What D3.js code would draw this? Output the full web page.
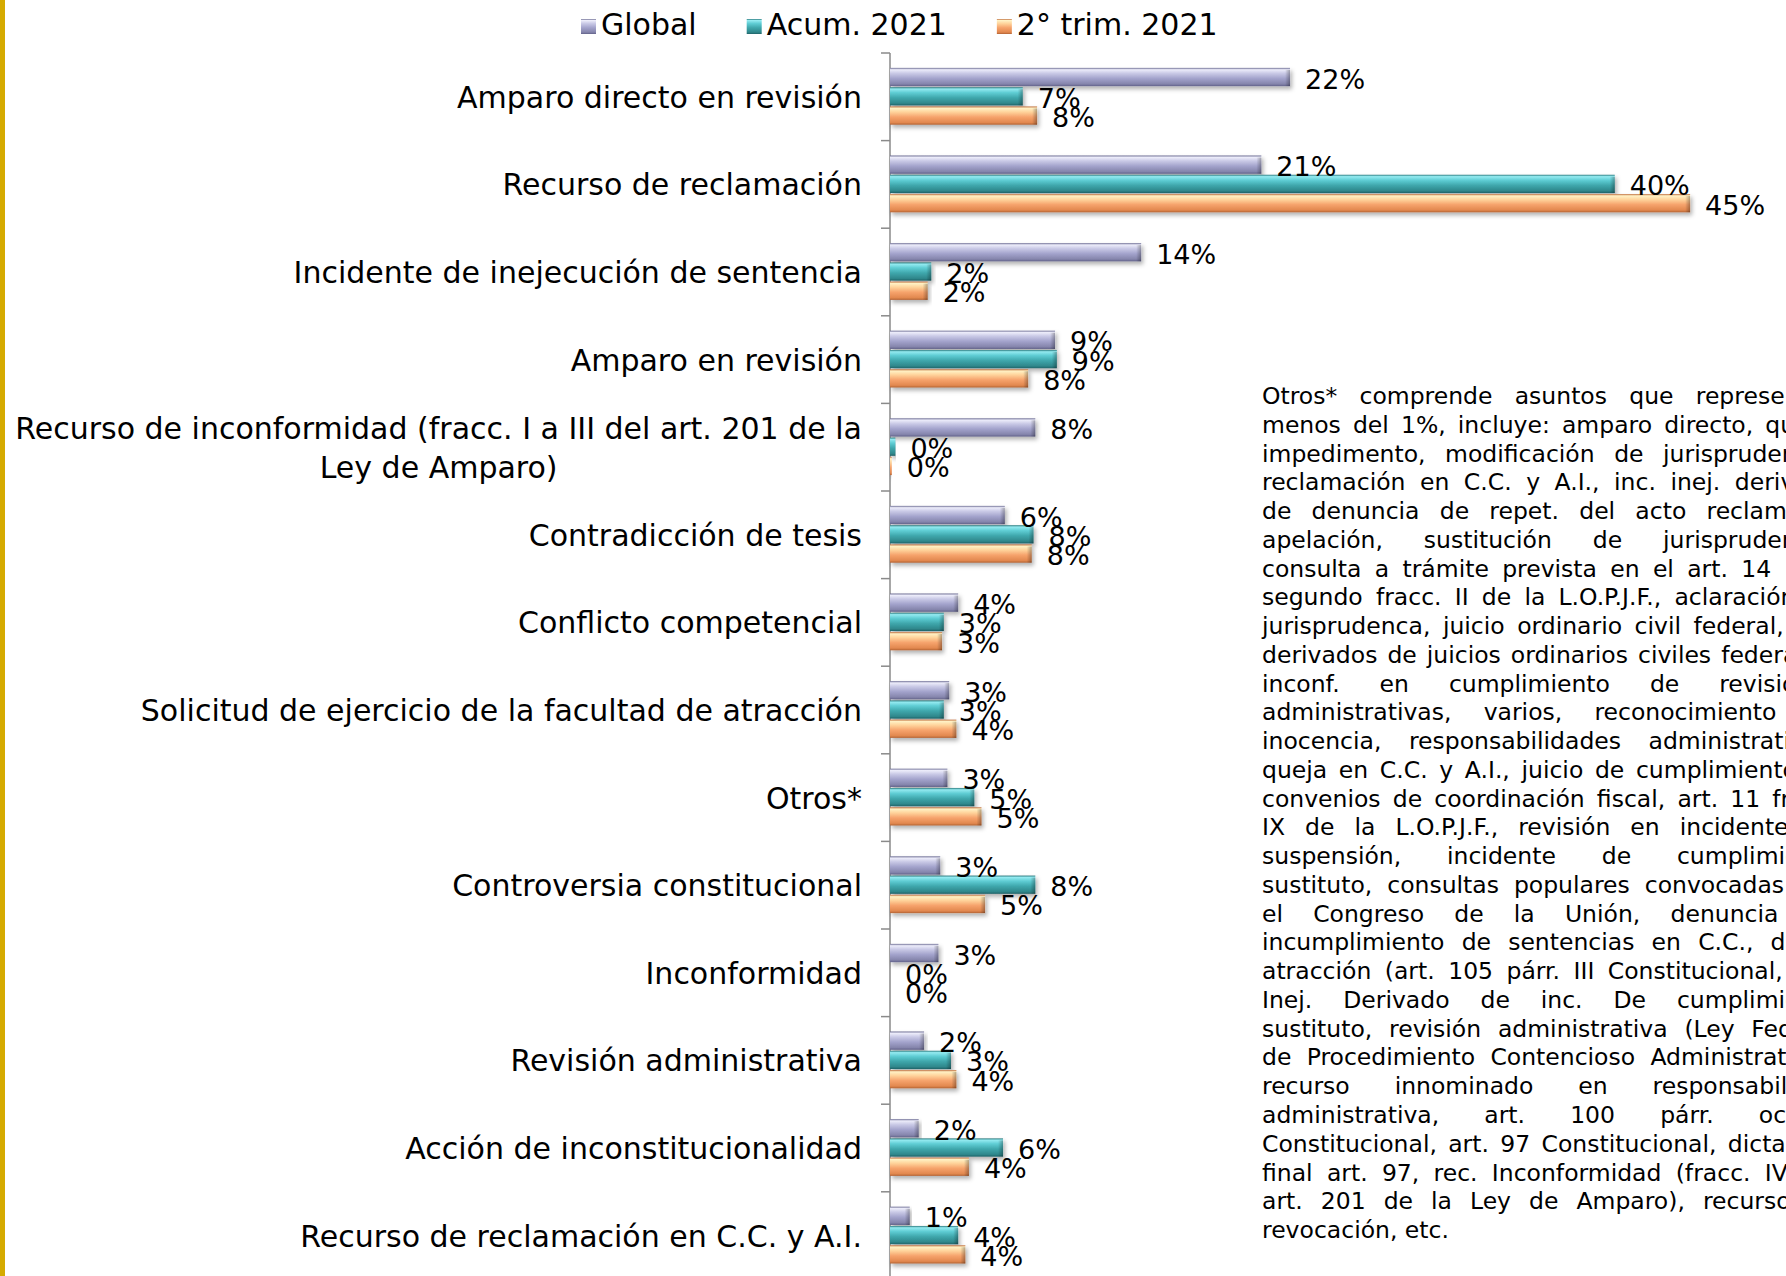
<!DOCTYPE html>
<html>
<head>
<meta charset="utf-8">
<script src="https://d3js.org/d3.v7.min.js"></script>
<style>
  body { margin: 0; background: #fff; }
  svg { display: block; font-family: "DejaVu Sans", Verdana, sans-serif; }
</style>
</head>
<body>
<svg id="chart" width="1786" height="1276"></svg>
<script>
// categories, top to bottom
const categories = [
  'Amparo directo en revisión',
  'Recurso de reclamación',
  'Incidente de inejecución de sentencia',
  'Amparo en revisión',
  'Recurso de inconformidad (fracc. I a III del art. 201 de la|Ley de Amparo)',
  'Contradicción de tesis',
  'Conflicto competencial',
  'Solicitud de ejercicio de la facultad de atracción',
  'Otros*',
  'Controversia constitucional',
  'Inconformidad',
  'Revisión administrativa',
  'Acción de inconstitucionalidad',
  'Recurso de reclamación en C.C. y A.I.'
]
const seriesNames = ['Global', 'Acum. 2021', '2° trim. 2021']
// values in %
const globalValues = [22.3, 20.7, 14.0, 9.2, 8.1, 6.4, 3.8, 3.3, 3.2, 2.8, 2.7, 1.9, 1.6, 1.1]
const acumValues = [7.4, 40.4, 2.3, 9.3, 0.3, 8.0, 3.0, 3.0, 4.7, 8.1, 0.0, 3.4, 6.3, 3.8]
const trimValues = [8.2, 44.6, 2.1, 7.7, 0.1, 7.9, 2.9, 3.7, 5.1, 5.3, 0.0, 3.7, 4.4, 4.2]

const noteLines = [
  'Otros* comprende asuntos que representan',
  'menos del 1%, incluye: amparo directo, queja,',
  'impedimento, modificación de jurisprudencia,',
  'reclamación en C.C. y A.I., inc. inej. derivado',
  'de denuncia de repet. del acto reclamado,',
  'apelación, sustitución de jurisprudencia,',
  'consulta a trámite prevista en el art. 14 párr.',
  'segundo fracc. II de la L.O.P.J.F., aclaración de',
  'jurisprudenca, juicio ordinario civil federal, inc.',
  'derivados de juicios ordinarios civiles federales,',
  'inconf. en cumplimiento de revisiones',
  'administrativas, varios, reconocimiento de',
  'inocencia, responsabilidades administrativas,',
  'queja en C.C. y A.I., juicio de cumplimiento de',
  'convenios de coordinación fiscal, art. 11 fracc.',
  'IX de la L.O.P.J.F., revisión en incidente de',
  'suspensión, incidente de cumplimiento',
  'sustituto, consultas populares convocadas por',
  'el Congreso de la Unión, denuncia de',
  'incumplimiento de sentencias en C.C., de la',
  'atracción (art. 105 párr. III Constitucional, inc.',
  'Inej. Derivado de inc. De cumplimiento',
  'sustituto, revisión administrativa (Ley Federal',
  'de Procedimiento Contencioso Administrativo),',
  'recurso innominado en responsabilidad',
  'administrativa, art. 100 párr. octavo',
  'Constitucional, art. 97 Constitucional, dictamen',
  'final art. 97, rec. Inconformidad (fracc. IV del',
  'art. 201 de la Ley de Amparo), recurso de',
  'revocación, etc.'
]

const data = categories.map((c, i) => ({
  cat: c,
  vals: [globalValues[i], acumValues[i], trimValues[i]]
}))

const svg = d3.select('#chart')
const width = +svg.attr('width')
const height = +svg.attr('height')

svg.append('rect').attr('width', width).attr('height', height).attr('fill', '#fff')
// gold stripe on the left edge
svg.append('rect').attr('x', 0).attr('y', 0).attr('width', 5).attr('height', height).attr('fill', '#D5AA00')

// gradients for the bevelled bars
const defs = svg.append('defs')
const palettes = [
  ['#6E6E94', '#ECECFA', '#C9C9E6', '#A3A3CC', '#8585AC', '#62628A'],
  ['#2C7A7E', '#93EAF0', '#5FCDD4', '#3FA7AC', '#2F878B', '#206368'],
  ['#C0703F', '#FFF1C4', '#FFD49C', '#F6A36C', '#E2884F', '#B36334']
]
const offsets = [0, 0.1, 0.3, 0.58, 0.88, 1]
palettes.forEach((p, i) => {
  const g = defs.append('linearGradient').attr('id', 'grad' + i)
    .attr('x1', 0).attr('y1', 0).attr('x2', 0).attr('y2', 1)
  p.forEach((c, j) => g.append('stop').attr('offset', offsets[j]).attr('stop-color', c))
})
const endGrad = defs.append('linearGradient').attr('id', 'endGrad')
  .attr('x1', 0).attr('y1', 0).attr('x2', 1).attr('y2', 0)
endGrad.append('stop').attr('offset', 0).attr('stop-color', '#000').attr('stop-opacity', 0)
endGrad.append('stop').attr('offset', 1).attr('stop-color', '#000').attr('stop-opacity', 0.3)
defs.append('filter').attr('id', 'shadow')
  .attr('x', '-5%').attr('y', '-30%').attr('width', '115%').attr('height', '190%')
  .append('feDropShadow')
  .attr('dx', 2).attr('dy', 3).attr('stdDeviation', 2)
  .attr('flood-color', '#000').attr('flood-opacity', 0.3)

// scales
const x = d3.scaleLinear().domain([0, 50]).range([890, 1787])
const y0 = d3.scaleBand()
  .domain(categories)
  .range([53, 53 + 14 * 87.6])
  .paddingInner(0.34)
  .paddingOuter(0.17)
const y1 = d3.scaleBand()
  .domain([0, 1, 2])
  .range([0, y0.bandwidth()])

// axis line and ticks at the band boundaries
const axisX = x(0)
svg.append('line')
  .attr('x1', axisX).attr('x2', axisX)
  .attr('y1', y0.range()[0]).attr('y2', y0.range()[1])
  .attr('stroke', '#8A8A8A').attr('stroke-width', 1.5)
const bounds = d3.range(categories.length + 1).map(i => y0.range()[0] + i * y0.step())
svg.append('g').selectAll('line')
  .data(bounds)
  .enter().append('line')
  .attr('x1', axisX - 9).attr('x2', axisX)
  .attr('y1', d => d).attr('y2', d => d)
  .attr('stroke', '#8A8A8A').attr('stroke-width', 1.5)

// bars
const groups = svg.append('g').selectAll('g')
  .data(data)
  .enter().append('g')
  .attr('transform', d => 'translate(0,' + y0(d.cat) + ')')

const barH = y1.bandwidth() - 1
groups.selectAll('rect.bar')
  .data(d => d.vals.map((v, i) => ({ v: v, i: i })))
  .enter().append('rect')
  .attr('class', 'bar')
  .attr('x', axisX)
  .attr('y', d => y1(d.i))
  .attr('width', d => x(d.v) - axisX)
  .attr('height', barH)
  .attr('fill', d => 'url(#grad' + d.i + ')')
  .attr('filter', 'url(#shadow)')

// darker bevel at the bar ends
groups.selectAll('rect.cap')
  .data(d => d.vals.map((v, i) => ({ v: v, i: i })).filter(d => d.v > 0.5))
  .enter().append('rect')
  .attr('class', 'cap')
  .attr('x', d => x(d.v) - 5)
  .attr('y', d => y1(d.i) + 2)
  .attr('width', 5)
  .attr('height', barH - 2)
  .attr('fill', 'url(#endGrad)')

// data labels
groups.selectAll('text.lbl')
  .data(d => d.vals.map((v, i) => ({ v: v, i: i })))
  .enter().append('text')
  .attr('class', 'lbl')
  .attr('x', d => x(d.v) + 15)
  .attr('y', d => y1(d.i) + y1.bandwidth() / 2 + 11)
  .attr('font-size', 27)
  .attr('fill', '#000')
  .text(d => Math.round(d.v) + '%')

// category labels (right aligned; two-line label centred on itself)
const labelRight = 862
categories.forEach(c => {
  const lines = c.split('|')
  const cy = y0(c) + y0.bandwidth() / 2
  if (lines.length === 1) {
    svg.append('text')
      .attr('x', labelRight).attr('y', cy + 11)
      .attr('text-anchor', 'end')
      .attr('font-size', 30)
      .text(c)
  } else {
    const t = svg.append('text').attr('font-size', 30).attr('text-anchor', 'middle')
    const tmp = svg.append('text').attr('font-size', 30).text(lines[0])
    const w = tmp.node().getComputedTextLength()
    tmp.remove()
    const lh = 39
    lines.forEach((l, k) => {
      t.append('tspan')
        .attr('x', labelRight - w / 2)
        .attr('y', cy + 11 + (k - (lines.length - 1) / 2) * lh)
        .text(l)
    })
  }
})

// legend
const legend = svg.append('g')
let lx = 581
seriesNames.forEach((s, i) => {
  legend.append('rect')
    .attr('x', lx).attr('y', 19).attr('width', 15).attr('height', 15)
    .attr('fill', 'url(#grad' + i + ')')
  const t = legend.append('text')
    .attr('x', lx + 20).attr('y', 35)
    .attr('font-size', 30)
    .text(s)
  lx += 20 + t.node().getComputedTextLength() + 50
})

// justified note on the right (runs past the right edge)
const noteX = 1262
const noteW = 576
const noteFont = 23.5
const noteLH = 28.76
const note = svg.append('g').attr('font-size', noteFont).attr('fill', '#000')
noteLines.forEach((line, li) => {
  const by = 404 + li * noteLH
  if (li === noteLines.length - 1) {
    note.append('text').attr('x', noteX).attr('y', by).text(line)
    return
  }
  const words = line.split(' ')
  const nodes = words.map(w => note.append('text').attr('y', by).text(w))
  const widths = nodes.map(n => n.node().getComputedTextLength())
  const gap = (noteW - d3.sum(widths)) / (words.length - 1)
  let cx = noteX
  nodes.forEach((n, k) => {
    n.attr('x', cx)
    cx += widths[k] + gap
  })
})
</script>
</body>
</html>
